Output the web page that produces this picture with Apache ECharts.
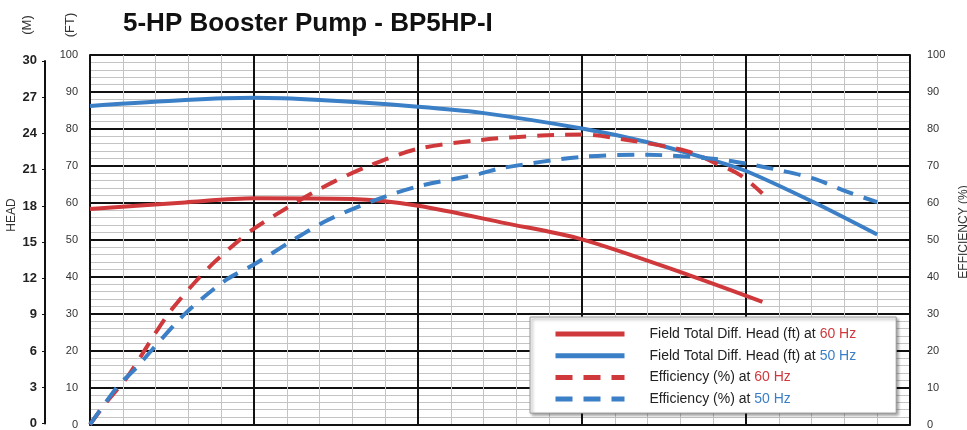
<!doctype html>
<html lang="en">
<head>
    <meta charset="UTF-8">
    <title>5-HP Booster Pump - BP5HP-I</title>
    <script src="https://cdn.jsdelivr.net/npm/echarts@6/dist/echarts.min.js"></script>
    <style>
        html, body { margin: 0; padding: 0; background: #fff; }
        #main { width: 967px; height: 430px; }
    </style>
</head>
<body>
<div id="main"></div>
<script type="text/javascript">
// flow positions (0-100 across the chart) and curve values
var flowHead60 = [0, 11.6, 20, 32, 40, 50.6, 60, 73.2, 82];
var head60 = [58.3, 60.1, 61.2, 61.0, 59.2, 54.5, 50.1, 40.3, 33.2];

var flowHead50 = [0, 11.6, 20, 28, 40, 47.6, 60, 68, 76, 80, 88.2, 96];
var head50 = [86.2, 87.8, 88.4, 87.8, 86.0, 84.4, 80.1, 76.4, 71.5, 68.6, 60.2, 51.4];

var flowEff60 = [0, 2, 4.6, 8.2, 10.1, 12.8, 15.2, 18, 20, 24, 27, 30, 34, 40, 47.6, 55, 60, 65.5, 72.8, 76, 79.3, 82];
var eff60 = [0, 6, 13, 25.5, 31.5, 38.5, 44, 49.5, 53, 58.6, 62.5, 66, 70, 74.6, 77, 78.2, 78.5, 77, 74, 71, 67.5, 62.5];

var flowEff50 = [0, 3.4, 5.5, 7.6, 11.6, 16.5, 20, 24.6, 28.7, 33.2, 37.2, 40.5, 47.6, 50.2, 59.8, 67.9, 76, 80, 84.1, 88.2, 92.3, 96];
var eff50 = [0, 10.4, 15, 20.3, 30, 39, 43.3, 49.7, 55, 59.4, 62.6, 64.7, 67.9, 69.4, 72.4, 73.0, 71.9, 70.6, 68.8, 66.6, 63, 60.2];

var seriesNames = [
    'Field Total Diff. Head (ft) at 60 Hz',
    'Field Total Diff. Head (ft) at 50 Hz',
    'Efficiency (%) at 60 Hz',
    'Efficiency (%) at 50 Hz'
];

var FT_PER_M = 3.2808;
var RED = '#d0393c';
var BLUE = '#3b7fc6';

function pairs(xs, ys) {
    var out = [];
    for (var i = 0; i < xs.length; i++) out.push([xs[i], ys[i]]);
    return out;
}

var myChart = echarts.init(document.getElementById('main'));

var majorLine = { show: true, lineStyle: { color: '#111', width: 2 } };
var minorLine = { show: true, lineStyle: { color: '#c4c4c4', width: 1 } };

var option = {
    animation: false,
    title: {
        text: '5-HP Booster Pump - BP5HP-I',
        left: 118,
        top: 6,
        textStyle: { fontFamily: 'Liberation Sans', fontSize: 26, fontWeight: 'bold', color: '#111' }
    },
    grid: [
        { left: 90, top: 55, width: 820, height: 374 },
        // metre scale, 30 m sits where 98.4 ft is
        { left: 45, top: 429 - 374 * 30 * FT_PER_M / 100, width: 1, height: 374 * 30 * FT_PER_M / 100 }
    ],
    xAxis: [
        {
            type: 'value', gridIndex: 0, min: 0, max: 100, interval: 20,
            axisLine: { show: true, lineStyle: { color: '#111', width: 2 } },
            axisTick: { show: false },
            axisLabel: { show: false },
            splitLine: majorLine,
            minorTick: { show: false, splitNumber: 5 },
            minorSplitLine: minorLine
        },
        { type: 'value', gridIndex: 1, show: false, min: 0, max: 1 }
    ],
    yAxis: [
        {
            type: 'value', gridIndex: 0, min: 0, max: 100, interval: 10,
            axisLine: { show: true, lineStyle: { color: '#111', width: 2 } },
            axisTick: { show: false },
            axisLabel: { margin: 12, color: '#333', fontFamily: 'Liberation Sans', fontSize: 11, padding: [0, 0, 6, 0] },
            splitLine: majorLine,
            minorTick: { show: false, splitNumber: 5 },
            minorSplitLine: minorLine
        },
        {
            type: 'value', gridIndex: 1, min: 0, max: 30, interval: 3, position: 'left',
            axisLine: { show: true, lineStyle: { color: '#111', width: 2 } },
            axisTick: { show: true, length: 3, lineStyle: { color: '#111', width: 1 } },
            axisLabel: { margin: 8, color: '#222', fontFamily: 'Liberation Sans', fontSize: 13, fontWeight: 'bold' },
            splitLine: { show: false }
        },
        {
            type: 'value', gridIndex: 0, min: 0, max: 100, interval: 10, position: 'right',
            axisLine: { show: true, lineStyle: { color: '#111', width: 2 } },
            axisTick: { show: false },
            axisLabel: { margin: 17, color: '#333', fontFamily: 'Liberation Sans', fontSize: 11 },
            splitLine: { show: false }
        }
    ],
    legend: {
        orient: 'vertical',
        left: 530,
        top: 317,
        data: seriesNames,
        itemWidth: 69,
        itemHeight: 14,
        itemGap: 7.7,
        padding: [10, 40, 7, 23],
        backgroundColor: '#fff',
        borderColor: '#9a9a9a',
        borderWidth: 1,
        shadowColor: 'rgba(0,0,0,0.45)',
        shadowBlur: 3,
        shadowOffsetX: 2,
        shadowOffsetY: 2,
        itemStyle: { color: 'rgba(0,0,0,0)', borderWidth: 0, opacity: 0 },
        lineStyle: { width: 5 },
        formatter: function (name) {
            return name.replace('60 Hz', '{r|60 Hz}').replace('50 Hz', '{b|50 Hz}');
        },
        textStyle: {
            color: '#222',
            fontFamily: 'Liberation Sans',
            fontSize: 14,
            lineHeight: 14,
            padding: [0, 0, 0, 20],
            rich: {
                r: { color: RED, fontFamily: 'Liberation Sans', fontSize: 14, lineHeight: 14 },
                b: { color: BLUE, fontFamily: 'Liberation Sans', fontSize: 14, lineHeight: 14 }
            }
        }
    },
    graphic: [
        { type: 'text', x: 27, y: 25, rotation: Math.PI / 2,
          style: { text: '(M)', align: 'center', verticalAlign: 'middle', font: '13px "Liberation Sans"', fill: '#333' } },
        { type: 'text', x: 70, y: 25, rotation: Math.PI / 2,
          style: { text: '(FT)', align: 'center', verticalAlign: 'middle', font: '13px "Liberation Sans"', fill: '#333' } },
        { type: 'text', x: 12, y: 215, rotation: Math.PI / 2,
          style: { text: 'HEAD', align: 'center', verticalAlign: 'middle', font: '12px "Liberation Sans"', fill: '#333' } },
        { type: 'text', x: 964, y: 232, rotation: Math.PI / 2,
          style: { text: 'EFFICIENCY (%)', align: 'center', verticalAlign: 'middle', font: '12px "Liberation Sans"', fill: '#333' } }
    ],
    series: [
        {
            name: seriesNames[0], type: 'line', xAxisIndex: 0, yAxisIndex: 0,
            smooth: 0.3, symbol: 'none', z: 5,
            lineStyle: { color: RED, width: 4 }, itemStyle: { color: RED },
            data: pairs(flowHead60, head60)
        },
        {
            name: seriesNames[1], type: 'line', xAxisIndex: 0, yAxisIndex: 0,
            smooth: 0.3, symbol: 'none', z: 5,
            lineStyle: { color: BLUE, width: 4 }, itemStyle: { color: BLUE },
            data: pairs(flowHead50, head50)
        },
        {
            name: seriesNames[2], type: 'line', xAxisIndex: 0, yAxisIndex: 2,
            smooth: 0.3, symbol: 'none', z: 5,
            lineStyle: { color: RED, width: 4, type: [17, 11] }, itemStyle: { color: RED },
            data: pairs(flowEff60, eff60)
        },
        {
            name: seriesNames[3], type: 'line', xAxisIndex: 0, yAxisIndex: 2,
            smooth: 0.3, symbol: 'none', z: 5,
            lineStyle: { color: BLUE, width: 4, type: [17, 11] }, itemStyle: { color: BLUE },
            data: pairs(flowEff50, eff50)
        }
    ]
};

myChart.setOption(option);
</script>
</body>
</html>
